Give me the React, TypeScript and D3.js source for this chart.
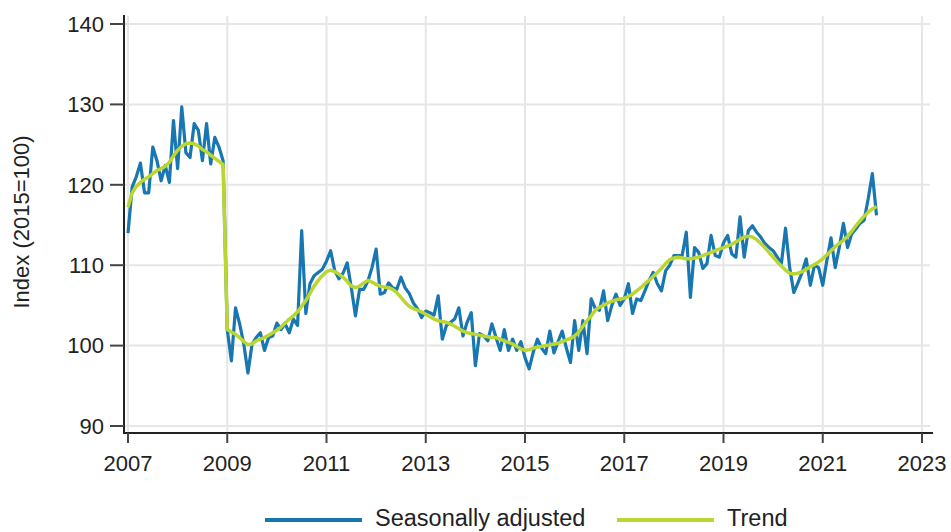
import React from "react";
import * as d3 from "d3";

// Monthly data Jan 2007 .. Feb 2022
const startYear = 2007;
const seasonallyAdjusted: number[] = [
  // 2007
  114.0, 119.7, 121.0, 122.7, 119.0, 119.0, 124.7, 123.0, 120.5, 122.4, 120.3, 128.0,
  // 2008
  122.0, 129.7, 124.0, 123.4, 127.6, 126.8, 123.0, 127.6, 122.6, 125.9, 124.7, 123.0,
  // 2009
  102.0, 98.1, 104.7, 102.7, 100.2, 96.6, 100.2, 101.0, 101.6, 99.4, 101.0, 101.2,
  // 2010
  102.8, 102.0, 102.7, 101.6, 103.3, 102.5, 114.3, 104.0, 107.7, 108.7, 109.1, 109.5,
  // 2011
  110.5, 111.8, 109.3, 108.3, 109.0, 110.3, 107.2, 103.7, 107.0, 107.0, 108.0, 109.7,
  // 2012
  112.0, 106.4, 106.6, 107.8, 107.2, 107.0, 108.5, 107.2, 106.5, 105.3, 104.6, 103.5,
  // 2013
  104.3, 104.1, 103.8, 106.2, 100.8, 102.5, 102.9, 103.3, 104.7, 101.2, 102.9, 104.1,
  // 2014
  97.5, 101.5, 101.2, 100.6, 102.7, 101.0, 99.4, 102.0, 99.4, 100.8, 99.4, 100.5,
  // 2015
  98.5, 97.1, 99.2, 100.8, 99.7, 99.0, 101.8, 99.1, 100.5, 101.8, 99.7, 97.9,
  // 2016
  103.1, 99.4, 103.1, 99.0, 105.8, 104.6, 104.4, 106.8, 103.1, 105.0, 106.4, 105.0,
  // 2017
  105.8, 107.7, 104.0, 105.8, 105.6, 106.8, 108.1, 109.1, 107.7, 106.8, 109.3, 110.0,
  // 2018
  111.2, 111.2, 111.2, 114.1, 106.0, 112.2, 111.6, 109.6, 110.2, 113.7, 111.2, 111.0,
  // 2019
  112.8, 113.7, 111.4, 111.0, 116.0, 111.0, 114.3, 114.9, 114.1, 113.5, 112.7, 112.2,
  // 2020
  111.8, 111.0, 110.2, 114.6, 109.7, 106.6, 107.8, 109.1, 110.8, 107.5, 110.0, 109.7,
  // 2021
  107.5, 110.6, 113.4, 109.7, 112.2, 115.2, 112.2, 113.9, 114.5, 115.2, 115.6, 118.3,
  // 2022
  121.4, 116.2,
];

const trend: number[] = [
  // 2007
  117.2, 119.0, 119.8, 120.3, 120.7, 121.0, 121.4, 121.8, 122.0, 122.3, 122.8, 123.6,
  // 2008
  124.3, 124.8, 125.1, 125.2, 125.1, 124.8, 124.4, 124.1, 123.7, 123.3, 122.9, 122.5,
  // 2009
  102.0, 101.7, 101.4, 101.0, 100.5, 100.1, 100.2, 100.6, 100.8, 101.0, 101.3, 101.6,
  // 2010
  101.9, 102.3, 102.8, 103.3, 103.7, 104.2, 104.9, 105.6, 106.5, 107.4, 108.1, 108.7,
  // 2011
  109.2, 109.4, 109.2, 108.9, 108.5, 108.0, 107.4, 107.2, 107.4, 107.8, 108.1, 107.9,
  // 2012
  107.6, 107.4, 107.3, 107.2, 107.0, 106.6, 106.0, 105.4, 104.9, 104.6, 104.4, 104.2,
  // 2013
  103.9, 103.6, 103.3, 103.1, 103.0, 102.9, 102.7, 102.4, 102.1, 101.8, 101.6, 101.5,
  // 2014
  101.4, 101.3, 101.2, 101.1, 101.0, 101.0, 100.8, 100.6, 100.4, 100.2, 99.9, 99.6,
  // 2015
  99.4, 99.5, 99.7, 99.8, 99.9, 100.0, 100.1, 100.2, 100.3, 100.5, 100.7, 100.9,
  // 2016
  101.2, 101.7, 102.4, 103.1, 103.7, 104.4, 104.8, 105.0, 105.3, 105.5, 105.7, 105.8,
  // 2017
  105.9, 106.1, 106.4, 106.8, 107.2, 107.7, 108.1, 108.6, 109.1, 109.6, 110.2, 110.7,
  // 2018
  110.9, 111.0, 110.9, 110.8, 110.8, 110.9, 111.0, 111.2, 111.4, 111.6, 111.8, 112.0,
  // 2019
  112.2, 112.4, 112.6, 112.9, 113.2, 113.5, 113.6, 113.5, 113.2, 112.7, 112.2, 111.6,
  // 2020
  111.0, 110.4, 109.9, 109.4, 109.0, 108.9, 109.0, 109.2, 109.5, 109.8, 110.1, 110.4,
  // 2021
  110.8, 111.3, 111.8, 112.3, 112.7, 113.1, 113.6, 114.2, 114.9, 115.5, 116.1, 116.6,
  // 2022
  117.0, 117.3,
];

const xTicks = [2007, 2009, 2011, 2013, 2015, 2017, 2019, 2021, 2023];
const yTicks = [90, 100, 110, 120, 130, 140];
const seriesNames = ["Seasonally adjusted", "Trend"];
const yTitle = "Index (2015=100)";

const BLUE = "#1877b0";
const GREEN = "#bcd631";
const FONT = "'Liberation Sans', Arial, sans-serif";

export default function App() {
  const W = 951;
  const H = 532;
  const x = d3.scaleLinear().domain([2007, 2023]).range([128, 922]);
  const y = d3.scaleLinear().domain([90, 140]).range([426, 24]);
  const t = (i: number) => startYear + i / 12;

  const line = d3
    .line<number>()
    .x((_, i) => x(t(i)))
    .y((d) => y(d));

  const axisX = 124;
  const axisY = 433;

  return (
    <svg
      width={W}
      height={H}
      style={{ position: "absolute", left: 0, top: 0, background: "#fff" }}
      fontFamily={FONT}
    >
      {/* grid */}
      {yTicks.map((v) => (
        <line key={"gy" + v} x1={axisX} x2={930} y1={y(v)} y2={y(v)} stroke="#e6e6e6" strokeWidth={2} />
      ))}
      {xTicks.map((v) => (
        <line key={"gx" + v} x1={x(v)} x2={x(v)} y1={16} y2={axisY} stroke="#e6e6e6" strokeWidth={2} />
      ))}

      {/* series */}
      <path d={line(seasonallyAdjusted) || ""} fill="none" stroke={BLUE} strokeWidth={3.2} strokeLinejoin="round" />
      <path d={line(trend) || ""} fill="none" stroke={GREEN} strokeWidth={3.5} strokeLinejoin="round" />

      {/* axes */}
      <line x1={axisX} x2={axisX} y1={15} y2={axisY + 1} stroke="#222" strokeWidth={2} />
      <line x1={axisX - 1} x2={933} y1={axisY} y2={axisY} stroke="#222" strokeWidth={2} />
      {yTicks.map((v) => (
        <g key={"ty" + v}>
          <line x1={110} x2={axisX} y1={y(v)} y2={y(v)} stroke="#444" strokeWidth={2} />
          <text x={104} y={y(v)} dy="0.35em" textAnchor="end" fontSize={22} fill="#222">
            {v}
          </text>
        </g>
      ))}
      {xTicks.map((v) => (
        <g key={"tx" + v}>
          <line x1={x(v)} x2={x(v)} y1={axisY} y2={axisY + 10} stroke="#444" strokeWidth={2} />
          <text x={x(v)} y={471} textAnchor="middle" fontSize={22} fill="#222">
            {v}
          </text>
        </g>
      ))}

      {/* y title */}
      <text
        transform={`translate(29, 222) rotate(-90)`}
        textAnchor="middle"
        fontSize={22}
        fill="#222"
      >
        {yTitle}
      </text>

      {/* legend */}
      <line x1={265} x2={362} y1={520} y2={520} stroke={BLUE} strokeWidth={4} />
      <text x={375} y={526} fontSize={23.5} fill="#222">
        {seriesNames[0]}
      </text>
      <line x1={617} x2={714} y1={520} y2={520} stroke={GREEN} strokeWidth={4} />
      <text x={727} y={526} fontSize={23.5} fill="#222">
        {seriesNames[1]}
      </text>
    </svg>
  );
}
